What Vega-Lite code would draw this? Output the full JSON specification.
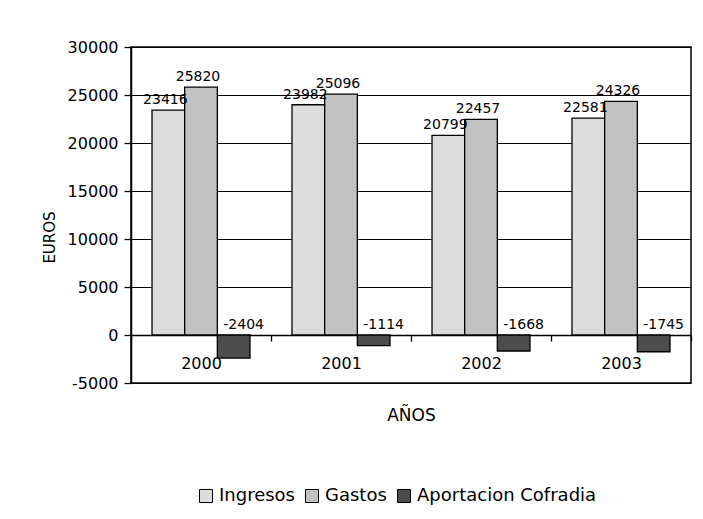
{
  "$schema": "https://vega.github.io/schema/vega-lite/v6.json",
  "width": 560,
  "height": 336,
  "autosize": {"type": "none"},
  "padding": {"left": 131, "top": 47, "right": 12, "bottom": 136},
  "background": "white",
  "config": {
    "font": "DejaVu Sans",
    "view": {"stroke": "black", "strokeWidth": 1.5},
    "axis": {"labelColor": "black", "titleColor": "black", "tickColor": "black", "domainColor": "black", "titleFontWeight": "normal"}
  },
  "data": {
    "values": [
      {"year": "2000", "serie": "Ingresos", "value": 23416},
      {"year": "2000", "serie": "Gastos", "value": 25820},
      {"year": "2000", "serie": "Aportacion Cofradia", "value": -2404},
      {"year": "2001", "serie": "Ingresos", "value": 23982},
      {"year": "2001", "serie": "Gastos", "value": 25096},
      {"year": "2001", "serie": "Aportacion Cofradia", "value": -1114},
      {"year": "2002", "serie": "Ingresos", "value": 20799},
      {"year": "2002", "serie": "Gastos", "value": 22457},
      {"year": "2002", "serie": "Aportacion Cofradia", "value": -1668},
      {"year": "2003", "serie": "Ingresos", "value": 22581},
      {"year": "2003", "serie": "Gastos", "value": 24326},
      {"year": "2003", "serie": "Aportacion Cofradia", "value": -1745}
    ]
  },
  "encoding": {
    "x": {
      "field": "year", "type": "nominal",
      "scale": {"paddingInner": 0, "paddingOuter": 0},
      "axis": {
        "title": "AÑOS", "titleFontSize": 17, "titlePadding": 36,
        "labelFontSize": 16, "labelPadding": 14, "labelAngle": 0,
        "tickSize": 6, "tickWidth": 1.3, "tickBand": "extent", "offset": -48,
        "domain": true, "domainWidth": 1.5, "grid": false
      }
    },
    "xOffset": {
      "field": "serie", "type": "nominal",
      "sort": ["Ingresos", "Gastos", "Aportacion Cofradia"],
      "scale": {"paddingInner": 0, "paddingOuter": 0.643}
    },
    "y": {
      "field": "value", "type": "quantitative",
      "scale": {"domain": [-5000, 30000], "nice": false},
      "axis": {
        "title": "EUROS", "titleFontSize": 15, "titlePadding": 10, "titleY": 190,
        "values": [-5000, 0, 5000, 10000, 15000, 20000, 25000, 30000],
        "labelExpr": "'' + datum.value",
        "labelFontSize": 16, "labelPadding": 6, "tickSize": 7, "tickWidth": 1.3,
        "grid": true, "gridColor": "black", "gridOpacity": 1, "gridWidth": 1.2,
        "domainWidth": 1.5
      }
    }
  },
  "layer": [
    {
      "mark": {"type": "bar", "stroke": "black", "strokeWidth": 1.3},
      "encoding": {
        "color": {
          "field": "serie", "type": "nominal",
          "scale": {"domain": ["Ingresos", "Gastos", "Aportacion Cofradia"], "range": ["#dcdcdc", "#c2c2c2", "#4d4d4d"]},
          "legend": {
            "title": null, "orient": "none", "direction": "horizontal",
            "legendX": 66, "legendY": 440,
            "symbolType": "square", "symbolSize": 170, "symbolStrokeColor": "black", "symbolStrokeWidth": 1,
            "labelFontSize": 18, "labelColor": "black", "labelOffset": 4, "columnPadding": 8, "labelLimit": 0
          }
        }
      }
    },
    {
      "transform": [{"filter": "datum.value > 0"}],
      "mark": {"type": "text", "baseline": "bottom", "dy": -3, "dx": -3, "fontSize": 14, "color": "black"},
      "encoding": {"text": {"field": "value", "type": "nominal"}}
    },
    {
      "transform": [{"filter": "datum.value < 0"}],
      "mark": {"type": "text", "baseline": "bottom", "dy": -3, "dx": 10, "fontSize": 14, "color": "black"},
      "encoding": {
        "y": {"datum": 0},
        "text": {"field": "value", "type": "nominal"}
      }
    }
  ]
}
